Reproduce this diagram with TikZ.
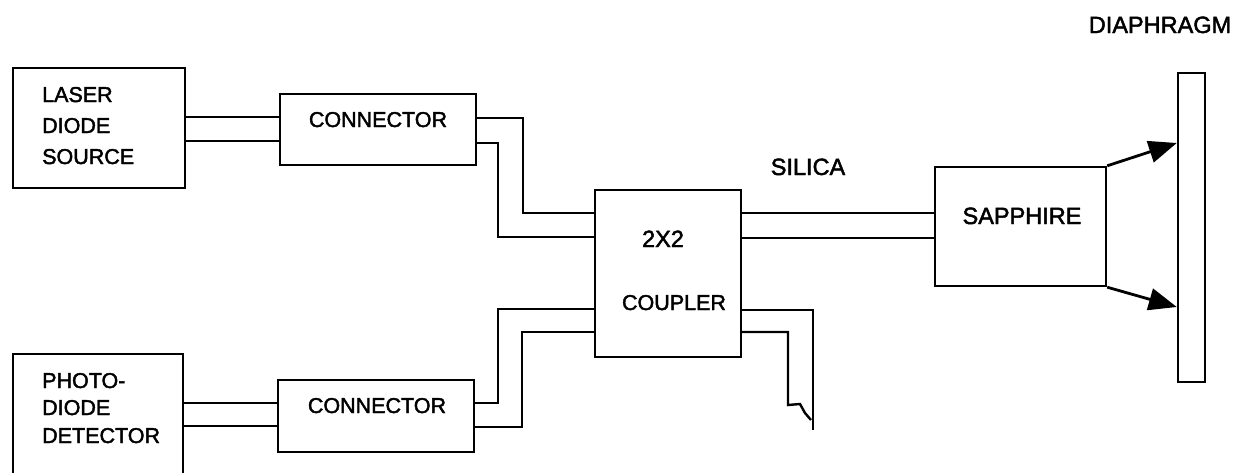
\documentclass[tikz,border=0pt]{standalone}
\usepackage{fontspec}
\setmainfont{Liberation Sans}
\newfontfamily\scanfont{Liberation Sans}[FakeBold=2]
\usetikzlibrary{arrows.meta,calc}
\begin{document}
\begin{tikzpicture}[x=1pt,y=-1pt, line width=2.4pt,
  box/.style={draw, rectangle, inner sep=0pt},
  lbl/.style={font=\scanfont\fontsize{21.5}{25}\selectfont, inner sep=0pt, anchor=base},
  lblw/.style={font=\scanfont\fontsize{21.5}{25}\selectfont, inner sep=0pt, anchor=base west},
  lblr/.style={font=\scanfont\fontsize{23.5}{28}\selectfont, inner sep=0pt, anchor=base},
  beam/.style={line width=2.8pt, -{Triangle[length=28pt,width=22pt]}}]
\clip (0,0) rectangle (1244,472);
% boxes
\node[box, minimum width=172pt, minimum height=120pt] (laser) at (99,128) {};
\node[box, minimum width=170pt, minimum height=146pt] (photo) at (98,427) {};
\node[box, minimum width=196pt, minimum height=71pt] (conn1) at (378,129.5) {};
\node[box, minimum width=196pt, minimum height=72pt] (conn2) at (376,416) {};
\node[box, minimum width=146pt, minimum height=167pt] (coupler) at (668,273.5) {};
\node[box, minimum width=171pt, minimum height=119pt] (sapphire) at (1020.5,226.5) {};
\node[box, minimum width=27pt, minimum height=309pt] (diaphragm) at (1191.5,227.5) {};
% texts
\node[lblw] (laserA) at (41,102) {LASER};
\node[lblw] (laserB) at (41,133) {DIODE};
\node[lblw] (laserC) at (41,164) {SOURCE};
\node[lblw] (photoA) at (41,388) {PHOTO-};
\node[lblw] (photoB) at (41,415) {DIODE};
\node[lblw] (photoC) at (41,443) {DETECTOR};
\node[lbl] (conn1t) at (378,127) {CONNECTOR};
\node[lbl] (conn2t) at (377,413) {CONNECTOR};
\node[lblr] (couplerA) at (663,247) {2X2};
\node[lbl] (couplerB) at (674,310) {COUPLER};
\node[lblr] (silica) at (808,175) {SILICA};
\node[lblr] (sapphiret) at (1022,224) {SAPPHIRE};
\node[lblr] (diaphragmt) at (1160,33) {DIAPHRAGM};
% fibres
\draw (laser.east |- 0,117) -- (conn1.west |- 0,117);
\draw (laser.east |- 0,141) -- (conn1.west |- 0,141);
\draw (conn1.east |- 0,118) -- (523,118) -- (523,213) -- (coupler.west |- 0,213);
\draw (conn1.east |- 0,143) -- (498,143) -- (498,237) -- (coupler.west |- 0,237);
\draw (coupler.east |- 0,213) -- (sapphire.west |- 0,213);
\draw (coupler.east |- 0,238) -- (sapphire.west |- 0,238);
\draw (photo.east |- 0,403) -- (conn2.west |- 0,403);
\draw (photo.east |- 0,426) -- (conn2.west |- 0,426);
\draw (conn2.east |- 0,403) -- (498,403) -- (498,309) -- (coupler.west |- 0,309);
\draw (conn2.east |- 0,427) -- (522,427) -- (522,332) -- (coupler.west |- 0,332);
\coordinate (tail) at (813,430);
\coordinate (cut) at (811,420);
\draw (coupler.east |- 0,310) -- (tail |- 0,310) -- (tail);
\draw (coupler.east |- 0,332) -- (788,332) -- (788,405) -- (800,404) -- (805,413) -- (cut);
% beams to diaphragm
\draw[beam] (sapphire.north east) -- (diaphragm.west |- 0,143);
\draw[beam] (sapphire.south east) -- (diaphragm.west |- 0,307);
\end{tikzpicture}
\end{document}
